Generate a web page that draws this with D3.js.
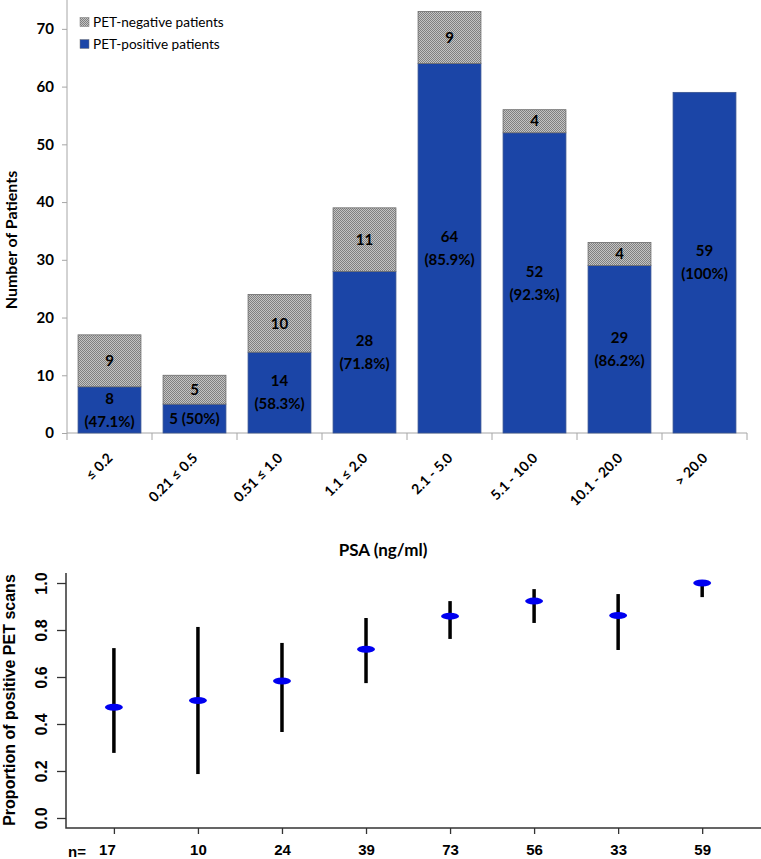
<!DOCTYPE html>
<html>
<head>
<meta charset="utf-8">
<script src="https://cdn.jsdelivr.net/npm/d3@7"></script>
<style>
  body { margin: 0; background: #fff; }
  svg { display: block; }
</style>
</head>
<body>
<div id="chart"></div>
<script>
// data
const categories = ['≤ 0.2', '0.21 ≤ 0.5', '0.51 ≤ 1.0', '1.1 ≤ 2.0', '2.1 - 5.0', '5.1 - 10.0', '10.1 - 20.0', '> 20.0'];
const positive = [8, 5, 14, 28, 64, 52, 29, 59];
const negative = [9, 5, 10, 11, 9, 4, 4, 0];
const positiveLabels = [['8', '(47.1%)'], ['5 (50%)'], ['14', '(58.3%)'], ['28', '(71.8%)'],
    ['64', '(85.9%)'], ['52', '(92.3%)'], ['29', '(86.2%)'], ['59', '(100%)']];
const yTicksTop = [0, 10, 20, 30, 40, 50, 60, 70];

const nPatients = [17, 10, 24, 39, 73, 56, 33, 59];
const proportion = [0.471, 0.5, 0.583, 0.718, 0.859, 0.923, 0.862, 1.0];
const ciLower = [0.277, 0.187, 0.366, 0.574, 0.762, 0.830, 0.715, 0.94];
const ciUpper = [0.723, 0.813, 0.745, 0.851, 0.923, 0.974, 0.953, 1.0];
const yTicksBottom = [0, 0.2, 0.4, 0.6, 0.8, 1.0];

const W = 761, H = 859;
const svg = d3.select('#chart').append('svg')
    .attr('width', W)
    .attr('height', H);

// checker pattern for the PET-negative part
const defs = svg.append('defs');
const pat = defs.append('pattern')
    .attr('id', 'checker')
    .attr('width', 2).attr('height', 2)
    .attr('patternUnits', 'userSpaceOnUse');
pat.append('rect').attr('width', 2).attr('height', 2).attr('fill', '#c4c4c4');
pat.append('rect').attr('width', 1).attr('height', 1).attr('fill', '#808080');
pat.append('rect').attr('x', 1).attr('y', 1).attr('width', 1).attr('height', 1).attr('fill', '#808080');

const blue = '#1b45a7';
const topFont = 'Lato, "Open Sans", sans-serif';
const rFont = '"Liberation Sans", Arial, sans-serif';

// ---------- top: stacked bars ----------
const xBand = d3.scaleBand()
    .domain(categories)
    .range([67, 747])
    .paddingInner(0.26)
    .paddingOuter(0.13);

const yTop = d3.scaleLinear()
    .domain([0, 75])
    .range([433, 0]);

const gTop = svg.append('g');

const yAxisTop = d3.axisLeft(yTop).tickValues(yTicksTop).tickSize(5).tickPadding(8);
gTop.append('g')
    .attr('transform', 'translate(67,0)')
    .call(yAxisTop)
    .call(g => g.select('.domain').remove())
    .call(g => g.selectAll('line').attr('stroke', '#a6a6a6'))
    .call(g => g.selectAll('text')
        .attr('font-family', topFont)
        .attr('font-weight', 'bold')
        .attr('font-size', 15)
        .attr('fill', '#000'));

gTop.append('line')
    .attr('x1', 67).attr('x2', 67)
    .attr('y1', yTop(75)).attr('y2', yTop(0))
    .attr('stroke', '#a6a6a6');

// x axis line with ticks at category boundaries
gTop.append('line')
    .attr('x1', 67).attr('x2', 747)
    .attr('y1', yTop(0)).attr('y2', yTop(0))
    .attr('stroke', '#a6a6a6');
const step = xBand.step();
gTop.selectAll('.xb')
    .data(d3.range(categories.length + 1))
    .join('line')
    .attr('class', 'xb')
    .attr('x1', i => 67 + i * step)
    .attr('x2', i => 67 + i * step)
    .attr('y1', yTop(0))
    .attr('y2', yTop(0) + 7)
    .attr('stroke', '#a6a6a6');

const bars = gTop.selectAll('.bar')
    .data(categories.map((c, i) => ({ c, pos: positive[i], neg: negative[i], lab: positiveLabels[i] })))
    .join('g')
    .attr('class', 'bar');

bars.append('rect')
    .attr('x', d => xBand(d.c))
    .attr('width', xBand.bandwidth())
    .attr('y', d => yTop(d.pos))
    .attr('height', d => yTop(0) - yTop(d.pos))
    .attr('fill', blue)
    .attr('stroke', '#3a5590')
    .attr('stroke-width', 0.8);

bars.filter(d => d.neg > 0).append('rect')
    .attr('x', d => xBand(d.c))
    .attr('width', xBand.bandwidth())
    .attr('y', d => yTop(d.pos + d.neg))
    .attr('height', d => yTop(d.pos) - yTop(d.pos + d.neg))
    .attr('fill', 'url(#checker)')
    .attr('stroke', '#6b6b6b')
    .attr('stroke-width', 0.8);

// labels inside the bars
bars.filter(d => d.neg > 0).append('text')
    .attr('x', d => xBand(d.c) + xBand.bandwidth() / 2)
    .attr('y', d => yTop(d.pos + d.neg / 2))
    .attr('dy', '0.35em')
    .attr('text-anchor', 'middle')
    .attr('font-family', topFont)
    .attr('font-weight', 'bold')
    .attr('font-size', 15)
    .text(d => d.neg);

bars.each(function(d) {
    const cx = xBand(d.c) + xBand.bandwidth() / 2;
    const cy = yTop(d.pos / 2);
    const n = d.lab.length;
    d3.select(this).selectAll('.pl')
        .data(d.lab)
        .join('text')
        .attr('class', 'pl')
        .attr('x', cx)
        .attr('y', (t, j) => cy + (j - (n - 1) / 2) * 23)
        .attr('dy', '0.35em')
        .attr('text-anchor', 'middle')
        .attr('font-family', topFont)
        .attr('font-weight', 'bold')
        .attr('font-size', 15)
        .text(t => t);
});

// rotated category labels
gTop.selectAll('.xl')
    .data(categories)
    .join('text')
    .attr('class', 'xl')
    .attr('transform', d => 'translate(' + (xBand(d) + xBand.bandwidth() / 2 + 4) + ',459) rotate(-45)')
    .attr('text-anchor', 'end')
    .attr('font-family', topFont)
    .attr('font-weight', 'bold')
    .attr('font-size', 14)
    .text(d => d);

gTop.append('text')
    .attr('transform', 'translate(17,240) rotate(-90)')
    .attr('text-anchor', 'middle')
    .attr('font-family', topFont)
    .attr('font-weight', 'bold')
    .attr('font-size', 16)
    .text('Number of Patients');

gTop.append('text')
    .attr('x', 383)
    .attr('y', 550)
    .attr('dy', '0.35em')
    .attr('text-anchor', 'middle')
    .attr('font-family', topFont)
    .attr('font-weight', 'bold')
    .attr('font-size', 17)
    .text('PSA (ng/ml)');

// legend
const legend = gTop.append('g');
const legendItems = [
    { label: 'PET-negative patients', fill: 'url(#checker)', y: 22 },
    { label: 'PET-positive patients', fill: blue, y: 44 }
];
legend.selectAll('rect')
    .data(legendItems)
    .join('rect')
    .attr('x', 80).attr('y', d => d.y - 4.5)
    .attr('width', 9).attr('height', 9)
    .attr('fill', d => d.fill)
    .attr('stroke', '#777')
    .attr('stroke-width', 0.5);
legend.selectAll('text')
    .data(legendItems)
    .join('text')
    .attr('x', 93).attr('y', d => d.y)
    .attr('dy', '0.35em')
    .attr('font-family', topFont)
    .attr('font-size', 13.6)
    .text(d => d.label);

// ---------- bottom: proportions with intervals ----------
const xPt = d3.scaleLinear()
    .domain([0.43, 8.7])
    .range([66, 761]);

const yPt = d3.scaleLinear()
    .domain([-0.0426, 1.0426])
    .range([828, 573]);

const gBottom = svg.append('g');
const axisCol = '#333';

gBottom.append('g')
    .attr('transform', 'translate(66,0)')
    .call(d3.axisLeft(yPt).tickValues(yTicksBottom).tickFormat(d3.format('.1f')).tickSize(9))
    .call(g => g.select('.domain').remove())
    .call(g => g.selectAll('line').attr('stroke', axisCol).attr('stroke-width', 1.3))
    .call(g => g.selectAll('text')
        .attr('x', 0)
        .attr('dy', 0)
        .attr('transform', 'translate(-19,0) rotate(-90)')
        .attr('text-anchor', 'middle')
        .attr('font-family', rFont)
        .attr('font-weight', 'bold')
        .attr('font-size', 16)
        .attr('fill', '#000'));

gBottom.append('g')
    .attr('transform', 'translate(0,828)')
    .call(d3.axisBottom(xPt).tickValues(d3.range(1, 9)).tickFormat((d, i) => nPatients[i]).tickSize(6).tickPadding(10))
    .call(g => g.select('.domain').remove())
    .call(g => g.selectAll('line').attr('stroke', axisCol).attr('stroke-width', 1.3))
    .call(g => g.selectAll('text')
        .attr('font-family', rFont)
        .attr('font-weight', 'bold')
        .attr('font-size', 15)
        .attr('fill', '#000'))
    .call(g => g.selectAll('.tick text').filter((d, i) => i === 0).attr('dx', -7));

// L-shaped frame
gBottom.append('path')
    .attr('d', 'M66,' + yPt.range()[1] + 'V' + yPt.range()[0] + 'H' + xPt.range()[1])
    .attr('fill', 'none')
    .attr('stroke', axisCol)
    .attr('stroke-width', 1.5);

gBottom.append('text')
    .attr('x', 68).attr('y', 857)
    .attr('font-family', rFont)
    .attr('font-weight', 'bold')
    .attr('font-size', 15)
    .text('n=');

const pts = proportion.map((p, i) => ({ x: i + 1, p, lo: ciLower[i], hi: ciUpper[i] }));

gBottom.selectAll('.ci')
    .data(pts)
    .join('line')
    .attr('class', 'ci')
    .attr('x1', d => xPt(d.x)).attr('x2', d => xPt(d.x))
    .attr('y1', d => yPt(d.lo)).attr('y2', d => yPt(d.hi))
    .attr('stroke', '#000')
    .attr('stroke-width', 3.5);

gBottom.selectAll('.pt')
    .data(pts)
    .join('ellipse')
    .attr('class', 'pt')
    .attr('cx', d => xPt(d.x))
    .attr('cy', d => yPt(d.p))
    .attr('rx', 9)
    .attr('ry', 3.5)
    .attr('fill', '#0000f0');

gBottom.append('text')
    .attr('transform', 'translate(15,700) rotate(-90)')
    .attr('text-anchor', 'middle')
    .attr('font-family', rFont)
    .attr('font-weight', 'bold')
    .attr('font-size', 16)
    .text('Proportion of positive PET scans');
</script>
</body>
</html>
